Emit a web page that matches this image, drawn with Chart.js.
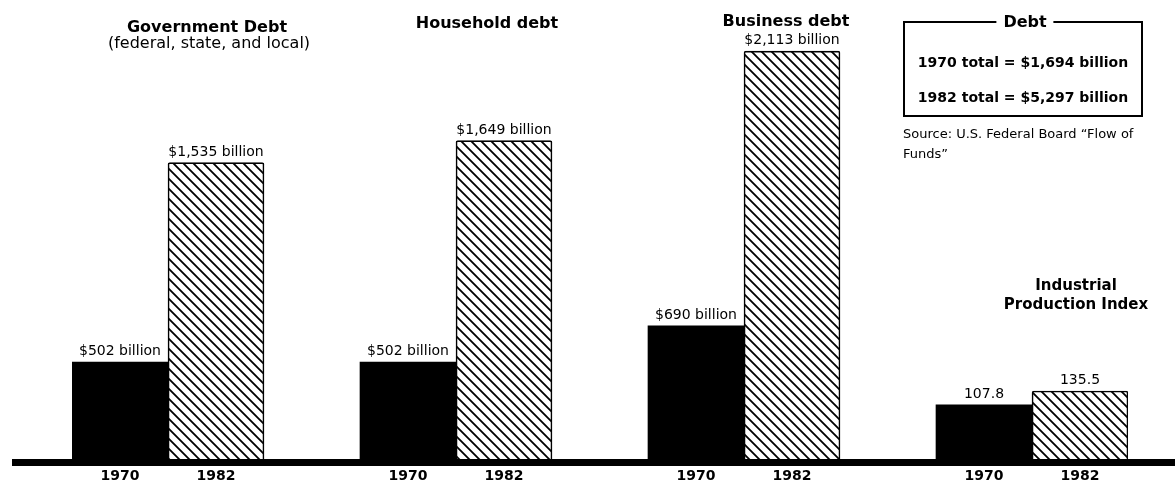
<!DOCTYPE html>
<html>
<head>
<meta charset="utf-8">
<script src="https://cdn.jsdelivr.net/npm/chart.js"></script>
<style>
  html, body { margin: 0; padding: 0; background: #fff; }
  #wrap { position: relative; width: 1175px; height: 488px; overflow: hidden; font-family: "DejaVu Sans", sans-serif; color: #000; }
  #wrap canvas { position: absolute; left: 0; top: 0; }
  .txt { position: absolute; white-space: nowrap; transform: translateX(-50%); }
  .left { transform: none; }
  #legendBox { position: absolute; left: 903px; top: 21px; width: 240px; height: 96px; border: 2px solid #000; box-sizing: border-box; }
</style>
</head>
<body>
<div id="wrap">
  <canvas id="debtChart" width="1175" height="488"></canvas>
  <div id="legendBox"></div>
</div>
<script>
// --- data ---
const years = ['1970', '1982'];
const debtGroups = ['Government Debt', 'Household debt', 'Business debt'];
const debt1970 = [502, 502, 690];      // billions of dollars
const debt1982 = [1535, 1649, 2113];
const ipiValues = [107.8, 135.5];      // Industrial Production Index, 1970 / 1982
const totals = ['1970 total = $1,694 billion', '1982 total = $5,297 billion'];
const sourceLines = ['Source: U.S. Federal Board \u201cFlow of', 'Funds\u201d'];

// --- build the 11 slots: 1970, 1982, gap, ... ---
const slotLabels = [];
const d70 = [], d82 = [], i70 = [], i82 = [];
debtGroups.forEach((g, k) => {
  slotLabels.push(years[0], years[1], '');
  d70.push(debt1970[k], null, null);
  d82.push(null, debt1982[k], null);
  i70.push(null, null, null);
  i82.push(null, null, null);
});
slotLabels.push(years[0], years[1]);
d70.push(null, null); d82.push(null, null);
i70.push(ipiValues[0], null); i82.push(null, ipiValues[1]);

function hatch() {
  const s = 10;
  const c = document.createElement('canvas');
  c.width = s; c.height = s;
  const g = c.getContext('2d');
  g.fillStyle = '#fff';
  g.fillRect(0, 0, s, s);
  g.strokeStyle = '#000';
  g.lineWidth = 1.8;
  g.beginPath();
  g.moveTo(0, 0); g.lineTo(s, s);
  g.moveTo(-2, s - 2); g.lineTo(2, s + 2);
  g.moveTo(s - 2, -2); g.lineTo(s + 2, 2);
  g.stroke();
  return g.createPattern(c, 'repeat');
}
const hatchFill = hatch();

// value labels above bars + thick baseline
const valueLabels = {
  id: 'valueLabels',
  afterDatasetsDraw(chart) {
    const ctx = chart.ctx;
    const a = chart.chartArea;
    ctx.save();
    ctx.fillStyle = '#000';
    ctx.fillRect(12, a.bottom, chart.width - 12, 7);
    ctx.font = '14px "DejaVu Sans"';
    ctx.textAlign = 'center';
    ctx.textBaseline = 'alphabetic';
    chart.data.datasets.forEach((ds, i) => {
      const meta = chart.getDatasetMeta(i);
      meta.data.forEach((bar, j) => {
        const v = ds.data[j];
        if (v == null) return;
        const txt = ds.yAxisID === 'y2' ? v.toFixed(1) : '$' + v.toLocaleString('en-US') + ' billion';
        ctx.fillText(txt, bar.x, bar.y - 7);
      });
    });
    ctx.restore();
  }
};

const solid = { backgroundColor: '#000', borderWidth: 0 };
const hatched = { backgroundColor: hatchFill, borderColor: '#000', borderWidth: 1.6, borderSkipped: 'bottom', borderRadius: 2 };

new Chart(document.getElementById('debtChart'), {
  type: 'bar',
  data: {
    labels: slotLabels,
    datasets: [
      Object.assign({ label: 'Debt 1970', data: d70, yAxisID: 'y' }, solid),
      Object.assign({ label: 'Debt 1982', data: d82, yAxisID: 'y' }, hatched),
      Object.assign({ label: 'Index 1970', data: i70, yAxisID: 'y2' }, solid),
      Object.assign({ label: 'Index 1982', data: i82, yAxisID: 'y2' }, hatched)
    ]
  },
  options: {
    responsive: false,
    animation: false,
    skipNull: true,
    categoryPercentage: 1,
    barPercentage: 1,
    layout: { padding: { left: 72, right: 47, top: 10, bottom: 3 } },
    plugins: { legend: { display: false }, tooltip: { enabled: false }, title: { display: false } },
    scales: {
      x: {
        grid: { display: false, drawTicks: false },
        border: { display: false },
        afterFit: (scale) => { scale.height = 26; },
        ticks: { autoSkip: false, maxRotation: 0, padding: 9, color: '#000', font: { family: 'DejaVu Sans', size: 14, weight: 'bold' } }
      },
      y: { display: false, min: 0, max: 2326 },
      y2: { display: false, min: 0, max: 895 }
    }
  },
  plugins: [valueLabels]
});

// --- titles, legend box, source (real text) ---
const wrap = document.getElementById('wrap');
function putText(txt, x, baseline, size, bold, parent, left) {
  const d = document.createElement('div');
  d.className = 'txt' + (left ? ' left' : '');
  d.textContent = txt;
  d.style.fontSize = size + 'px';
  d.style.lineHeight = size + 'px';
  d.style.fontWeight = bold ? 'bold' : 'normal';
  d.style.top = (baseline - 0.846 * size) + 'px';
  d.style.left = x + 'px';
  (parent || wrap).appendChild(d);
  return d;
}
putText(debtGroups[0], 207, 33, 16, true);
putText('(federal, state, and local)', 209, 49, 16, false);
putText(debtGroups[1], 487, 29, 16, true);
putText(debtGroups[2], 786, 26.5, 16, true);
putText('Industrial', 1076, 291, 15, true);
putText('Production Index', 1076, 310, 15, true);

const t = putText('Debt', 1025, 28, 16, true);
t.style.background = '#fff';
t.style.padding = '0 7px';
putText(totals[0], 1023, 67, 14, true);
putText(totals[1], 1023, 102, 14, true);
putText(sourceLines[0], 903, 138, 13, false, wrap, true);
putText(sourceLines[1], 903, 158, 13, false, wrap, true);
</script>
</body>
</html>
